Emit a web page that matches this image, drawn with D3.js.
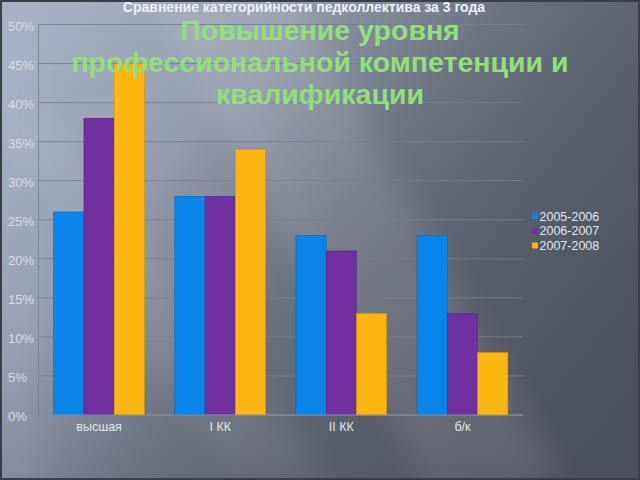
<!DOCTYPE html>
<html>
<head>
<meta charset="utf-8">
<script src="https://cdn.jsdelivr.net/npm/d3@7"></script>
<style>
html,body{margin:0;padding:0;background:#555b67;}
svg{display:block;}
text{font-family:"Liberation Sans",Arial,sans-serif;}
</style>
</head>
<body>
<svg id="chart" width="640" height="480"></svg>
<script>
const categories = ["высшая", "I КК", "II КК", "б/к"];
const seriesNames = ["2005-2006", "2006-2007", "2007-2008"];
const values2005 = [0.26, 0.28, 0.23, 0.23];
const values2006 = [0.38, 0.28, 0.21, 0.13];
const values2007 = [0.45, 0.34, 0.13, 0.08];
const yTicks = [0, 0.05, 0.10, 0.15, 0.20, 0.25, 0.30, 0.35, 0.40, 0.45, 0.50];
const chartTitle = "Сравнение категорийности педколлектива за 3 года";
const overlayTitle = ["Повышение уровня", "профессиональной компетенции и", "квалификации"];
const colors = ["#0b84ea", "#7030a0", "#ffb612"];

const seriesValues = [values2005, values2006, values2007];
const svg = d3.select("#chart");
const W = 640, H = 480;

// background
const defs = svg.append("defs");
const bg = defs.append("linearGradient").attr("id", "bg")
  .attr("x1", "0").attr("y1", "0.2").attr("x2", "1").attr("y2", "0.8");
bg.append("stop").attr("offset", "0").attr("stop-color", "#a6afc1");
bg.append("stop").attr("offset", "0.25").attr("stop-color", "#939bac");
bg.append("stop").attr("offset", "0.5").attr("stop-color", "#6b7280");
bg.append("stop").attr("offset", "0.75").attr("stop-color", "#555b67");
bg.append("stop").attr("offset", "1").attr("stop-color", "#4c525d");
const blur = defs.append("filter").attr("id", "blur").attr("x", "-50%").attr("y", "-50%").attr("width", "200%").attr("height", "200%");
blur.append("feGaussianBlur").attr("stdDeviation", 14);

svg.append("rect").attr("width", W).attr("height", H).attr("fill", "url(#bg)");
// diagonal light streaks
svg.append("path").attr("d", "M150,0 L300,0 L560,480 L420,480 Z")
  .attr("fill", "#ffffff").attr("opacity", 0.10).attr("filter", "url(#blur)");
svg.append("path").attr("d", "M0,120 L60,120 L330,480 L230,480 Z")
  .attr("fill", "#ffffff").attr("opacity", 0.06).attr("filter", "url(#blur)");
svg.append("path").attr("d", "M0,0 L40,0 L40,480 L0,480 Z")
  .attr("fill", "#c0c8d8").attr("opacity", 0.10).attr("filter", "url(#blur)");

// scales
const x0 = d3.scaleBand().domain(categories).range([38.5, 523]).paddingInner(0.25).paddingOuter(0.125);
const x1 = d3.scaleBand().domain(seriesNames).range([0, x0.bandwidth()]);
const y = d3.scaleLinear().domain([0, 0.5]).range([415, 24.5]);

// gridlines
svg.append("g").selectAll("line").data(yTicks).join("line")
  .attr("x1", 38.5).attr("x2", 523)
  .attr("y1", d => y(d)).attr("y2", d => y(d))
  .attr("stroke", "#78808f").attr("stroke-opacity", 0.85).attr("stroke-width", 1);

// y axis line
svg.append("line").attr("x1", 38.5).attr("x2", 38.5).attr("y1", y(0.5)).attr("y2", y(0))
  .attr("stroke", "#7c8494").attr("stroke-width", 1);

// y tick labels
const yAxis = d3.axisLeft(y).tickValues(yTicks).tickFormat(d3.format(".0%")).tickSize(0);
const yg = svg.append("g").attr("transform", "translate(38.5,0)").call(yAxis);
yg.select(".domain").remove();
yg.selectAll("text")
  .attr("x", 8 - 38.5).attr("dy", "0.45em")
  .attr("text-anchor", "start")
  .attr("fill", "#d8dce4").attr("font-size", 13)
  .attr("font-family", "'Liberation Sans',Arial,sans-serif");

// bars
const groups = svg.append("g").selectAll("g").data(categories).join("g")
  .attr("transform", d => `translate(${x0(d)},0)`);
groups.selectAll("rect")
  .data((c, ci) => seriesNames.map((s, si) => ({s, si, v: seriesValues[si][ci]})))
  .join("rect")
  .attr("x", d => x1(d.s)).attr("width", x1.bandwidth())
  .attr("y", d => y(d.v)).attr("height", d => y(0) - y(d.v))
  .attr("fill", d => colors[d.si])
  .attr("stroke", d => d3.color(colors[d.si]).darker(0.6))
  .attr("stroke-width", 0.6);

// baseline
svg.append("line").attr("x1", 38.5).attr("x2", 523).attr("y1", y(0)).attr("y2", y(0))
  .attr("stroke", "#8a92a1").attr("stroke-width", 1);

// x axis labels
const xAxis = d3.axisBottom(x0).tickSize(0);
const xg = svg.append("g").attr("transform", `translate(0,${y(0)})`).call(xAxis);
xg.select(".domain").remove();
xg.selectAll("text").attr("y", 12).attr("dy", "0.35em")
  .attr("fill", "#e2e5eb").attr("font-size", 12.5)
  .attr("font-family", "'Liberation Sans',Arial,sans-serif");

// legend
const legend = svg.append("g").attr("transform", "translate(532,216)");
const li = legend.selectAll("g").data(seriesNames).join("g")
  .attr("transform", (d, i) => `translate(0,${i * 14.7})`);
li.append("rect").attr("x", 0).attr("y", -3).attr("width", 6).attr("height", 6)
  .attr("rx", 1).attr("fill", (d, i) => colors[i]);
li.append("text").attr("x", 7.5).attr("dy", "0.36em").text(d => d)
  .attr("fill", "#e4e7ee").attr("font-size", 12.5);

// chart title
svg.append("text").attr("x", 304).attr("y", 12).attr("text-anchor", "middle")
  .attr("fill", "#eef0f4").attr("font-size", 14).attr("font-weight", "bold")
  .text(chartTitle);

// overlay title
const ot = svg.append("g");
ot.selectAll("text").data(overlayTitle).join("text")
  .attr("x", 320).attr("y", (d, i) => 40 + i * 32)
  .attr("text-anchor", "middle")
  .attr("fill", "#8fe07a").attr("font-size", 28.5).attr("font-weight", "bold")
  .text(d => d);

// frame
svg.append("rect").attr("x", 1).attr("y", 1).attr("width", W - 2).attr("height", H - 2)
  .attr("fill", "none").attr("stroke", "#3a3e47").attr("stroke-width", 2);
</script>
</body>
</html>
